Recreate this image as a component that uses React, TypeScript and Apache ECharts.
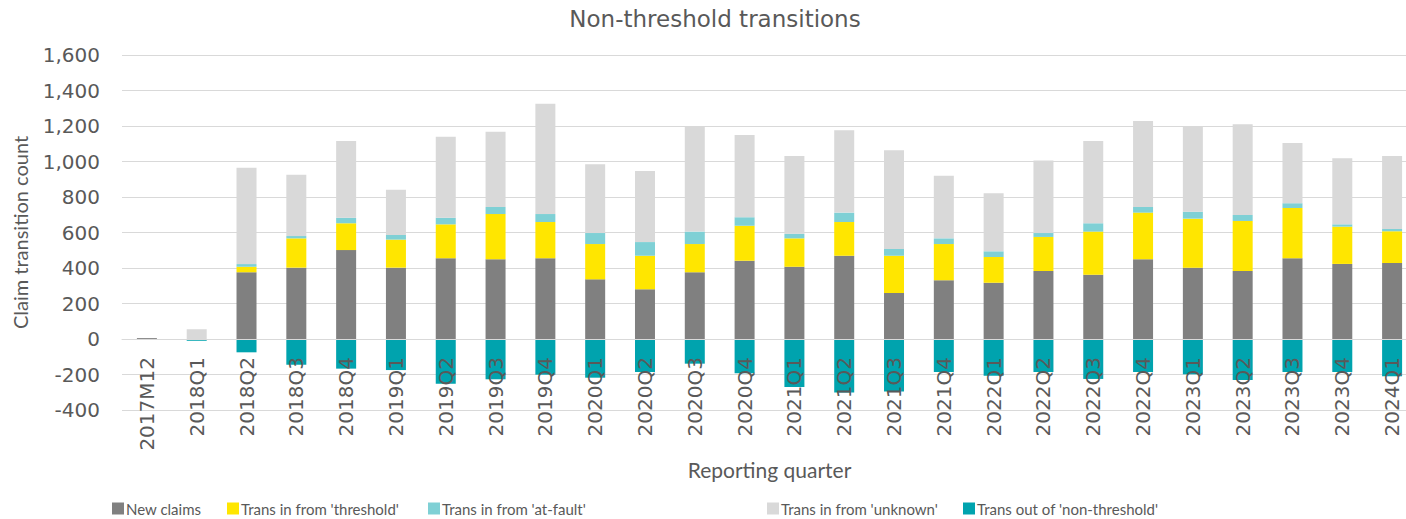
import React, { useEffect, useRef } from "react";
import * as echarts from "echarts";

const categories = [
  "2017M12", "2018Q1", "2018Q2", "2018Q3", "2018Q4", "2019Q1", "2019Q2", "2019Q3", "2019Q4",
  "2020Q1", "2020Q2", "2020Q3", "2020Q4", "2021Q1", "2021Q2", "2021Q3", "2021Q4",
  "2022Q1", "2022Q2", "2022Q3", "2022Q4", "2023Q1", "2023Q2", "2023Q3", "2023Q4", "2024Q1",
];

const newClaims = [5, 0, 376, 402, 501, 402, 455, 449, 455, 336, 280, 376, 441, 407, 469, 259, 331, 317, 383, 362, 449, 402, 383, 455, 423, 428];
const fromThreshold = [0, 0, 31, 165, 151, 158, 191, 255, 204, 199, 189, 159, 197, 160, 190, 210, 204, 145, 192, 243, 263, 276, 282, 283, 210, 179];
const fromAtFault = [0, 0, 15, 13, 31, 26, 37, 40, 45, 62, 77, 70, 48, 26, 53, 38, 32, 32, 22, 47, 32, 39, 34, 27, 13, 13];
const fromUnknown = [0, 55, 543, 346, 433, 255, 457, 424, 622, 387, 400, 595, 463, 438, 464, 556, 353, 327, 408, 464, 484, 483, 511, 339, 372, 411];
const transOut = [0, -10, -75, -145, -167, -175, -252, -227, -201, -218, -186, -139, -193, -270, -302, -296, -186, -207, -186, -225, -186, -199, -231, -186, -186, -210];

const yTicks = { min: -400, max: 1600, interval: 200 };

const seriesDefs = [
  { name: "New claims", data: newClaims, color: "#808080" },
  { name: "Trans in from 'threshold'", data: fromThreshold, color: "#FFE600" },
  { name: "Trans in from 'at-fault'", data: fromAtFault, color: "#7FD0D5" },
  { name: "Trans in from 'unknown'", data: fromUnknown, color: "#D9D9D9" },
  { name: "Trans out of 'non-threshold'", data: transOut, color: "#00A3AE" },
];

const legendLefts = [112, 227, 428, 767, 963];

const TEXT = "#595959";

export default function App() {
  const ref = useRef<HTMLDivElement>(null);
  useEffect(() => {
    if (!ref.current) return;
    const chart = echarts.init(ref.current, undefined, { renderer: "svg" });
    chart.setOption({
      animation: false,
      backgroundColor: "#ffffff",
      title: {
        text: "Non-threshold transitions",
        left: 710,
        top: 2,
        textAlign: "center",
        textStyle: { fontFamily: "DejaVu Sans", fontSize: 23, fontWeight: "normal", color: TEXT },
      },
      legend: seriesDefs.map((s, i) => ({
        left: legendLefts[i],
        top: 501,
        itemWidth: 12,
        itemHeight: 12,
        itemGap: 0,
        icon: "rect",
        padding: 0,
        textStyle: { fontFamily: "Lato", fontSize: 15, color: TEXT, padding: [0, 0, 0, -3] },
        data: [s.name],
      })),
      grid: { left: 122, right: -11, top: 55, bottom: 109, containLabel: false, outerBoundsMode: "none" },
      xAxis: {
        type: "category",
        data: categories,
        name: "Reporting quarter",
        nameLocation: "middle",
        nameGap: 113,
        nameTextStyle: { fontFamily: "Lato", fontSize: 21, color: TEXT },
        position: "bottom",
        offset: -71,
        z: 10,
        axisLine: { onZero: false, lineStyle: { color: "#D9D9D9", width: 1 } },
        axisTick: { show: false },
        axisLabel: {
          rotate: 90,
          margin: 18,
          fontFamily: "DejaVu Sans",
          fontSize: 20,
          color: TEXT,
        },
      },
      yAxis: {
        type: "value",
        min: yTicks.min,
        max: yTicks.max,
        interval: yTicks.interval,
        name: "Claim transition count",
        nameLocation: "middle",
        nameGap: 92,
        nameTextStyle: { fontFamily: "Lato", fontSize: 20, color: TEXT },
        axisLine: { show: false },
        axisTick: { show: false },
        axisLabel: {
          margin: 22,
          fontFamily: "DejaVu Sans",
          fontSize: 20,
          color: TEXT,
          formatter: (v: number) => v.toLocaleString("en-US"),
        },
        splitLine: { lineStyle: { color: "#D9D9D9", width: 1 } },
      },
      series: seriesDefs.map((s) => ({
        name: s.name,
        type: "bar",
        stack: "total",
        barWidth: 20,
        data: s.data,
        itemStyle: { color: s.color },
      })),
    });
    return () => chart.dispose();
  }, []);
  return (
    <div
      ref={ref}
      style={{ position: "fixed", left: 0, top: 0, width: 1406, height: 519 }}
    />
  );
}
